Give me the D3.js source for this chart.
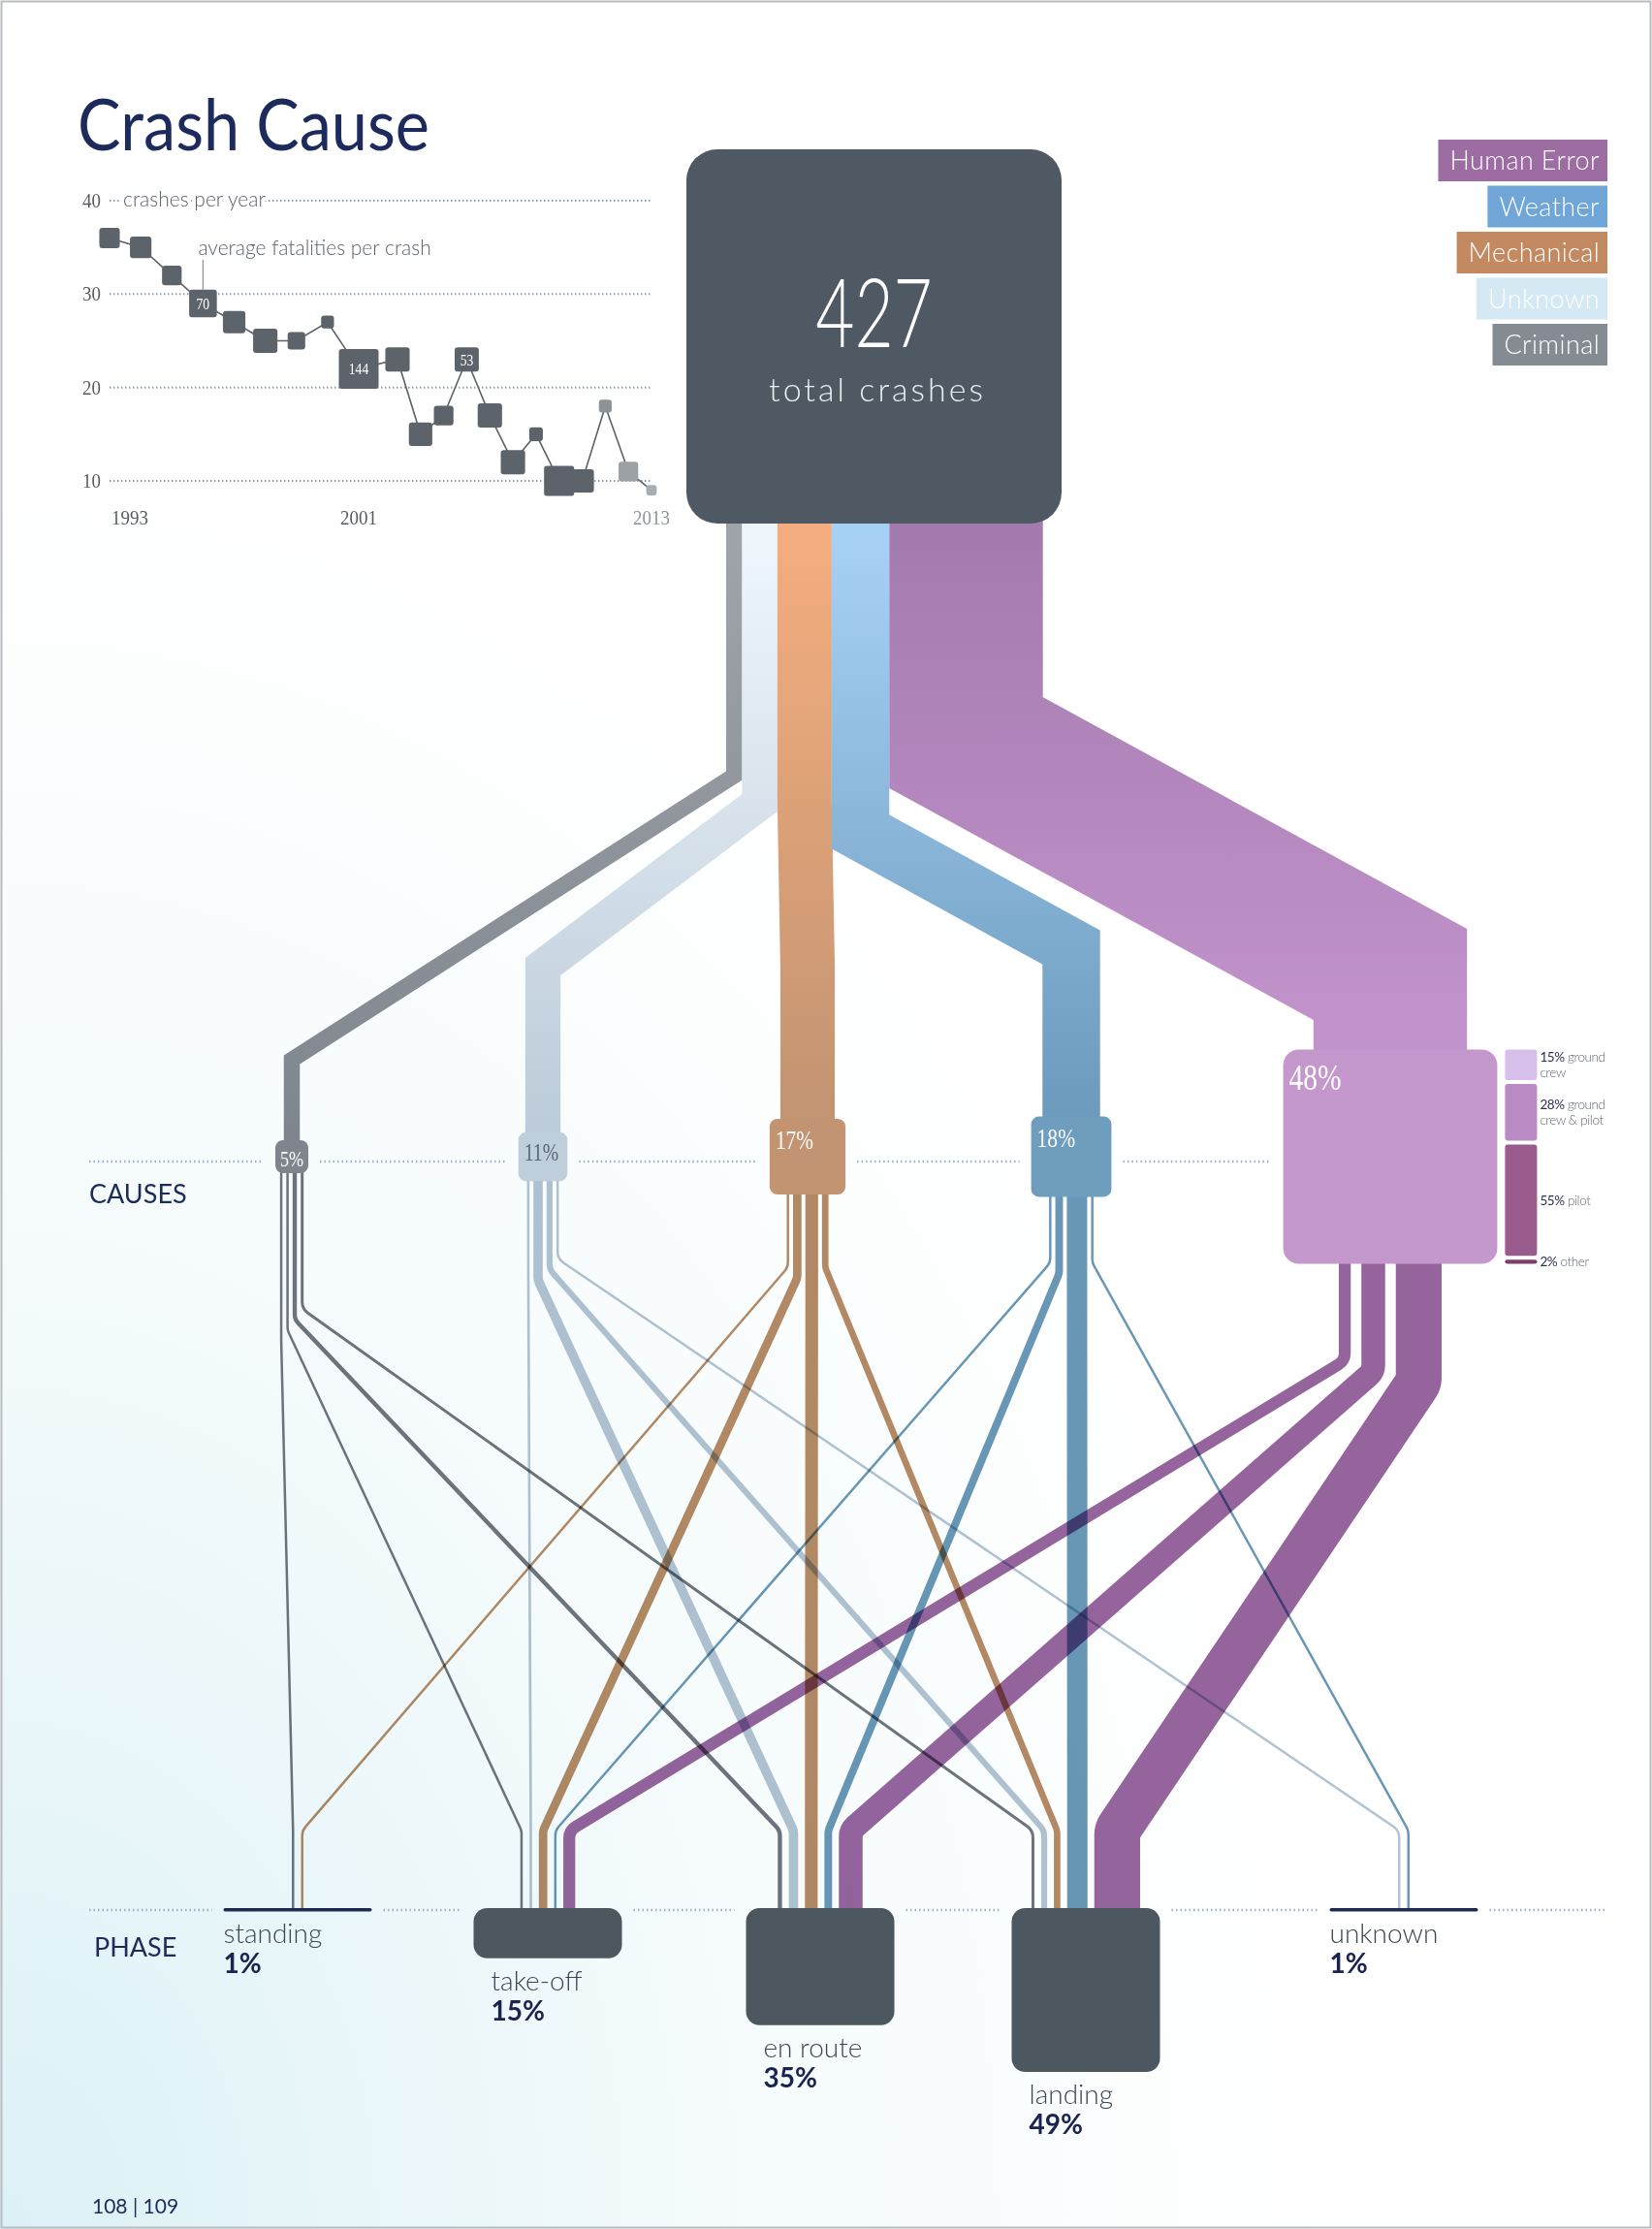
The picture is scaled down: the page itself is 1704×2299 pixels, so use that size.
<!DOCTYPE html>
<html>
<head>
<meta charset="utf-8">
<title>Crash Cause</title>
<script src="https://d3js.org/d3.v7.min.js"></script>
<style>
  body { margin: 0; background: #fff; }
  svg { display: block; }
  text { font-family: Lato, "Open Sans", sans-serif; }
  .num { font-family: "Liberation Serif", "DejaVu Serif", serif; }
</style>
</head>
<body>
<svg id="page" width="1704" height="2299"></svg>
<script>
// ---------- values ----------
var years = [1993, 1994, 1995, 1996, 1997, 1998, 1999, 2000, 2001, 2002, 2003,
             2004, 2005, 2006, 2007, 2008, 2009, 2010, 2011, 2012, 2013];
var crashesPerYear = [36, 35, 32, 29, 27, 25, 25, 27, 22, 23, 15,
                      17, 23, 17, 12, 15, 10, 10, 18, 11, 9];
var fatalitiesPerCrash = [38, 42, 35, 70, 46, 54, 28, 15, 144, 54, 50,
                          35, 53, 54, 54, 17, 83, 50, 15, 35, 10];
var labelledYears = [1996, 2001, 2005];
var provisionalYears = [2011, 2012, 2013];
var yTicks = [10, 20, 30, 40];
var yearTicks = [1993, 2001, 2013];

var totalCrashes = 427;
var causes = ["Criminal", "Unknown", "Mechanical", "Weather", "Human Error"];
var causeShare = [5, 11, 17, 18, 48];
var legendOrder = ["Human Error", "Weather", "Mechanical", "Unknown", "Criminal"];

var phases = ["standing", "take-off", "en route", "landing", "unknown"];
var phaseShare = [1, 15, 35, 49, 1];

// % of all crashes, per phase (same order as phases)
var criminalByPhase   = [0.3, 0.5, 2.5, 1.7, 0];
var unknownByPhase    = [0, 1.5, 5.5, 3.5, 0.5];
var mechanicalByPhase = [0.7, 5, 7.5, 3.8, 0];
var weatherByPhase    = [0, 1, 4.5, 12, 0.5];
var humanByPhase      = [0, 7, 14, 27, 0];

var humanTypes = ["ground crew", "ground crew & pilot", "pilot", "other"];
var humanTypeShare = [15, 28, 55, 2];

// ---------- layout ----------
var svg = d3.select("#page");
var W = 1704, H = 2299;
var navy = "#1d2a5c";

var box = {x0: 708, x1: 1095, y0: 154, y1: 540};
var bandK = 3.3, bandLeft = 749;
var causeRowY = 1193;
var causeX = d3.scaleOrdinal().domain(causes).range([301, 560, 833, 1105, 1434]);
var causeBends = [[800, 1093], [828, 997], [828, 997], [858, 977], [766, 1005]];
var causeDrop = [140, 80, 75, 68, 100];
var causeGap = [4, 4, 4, 4, 11];
var phaseX = d3.scaleOrdinal().domain(phases).range([307, 565, 846, 1120, 1448]);
var phaseTop = 1968, phaseK = 3.45, phaseW = 153;
var linkK = 1.75, linkMin = 2.5, phaseGap = 7;

var bandColors = [["#9ea4aa", "#7f858c"], ["#eef6fc", "#bccbd9"], ["#f3ad7e", "#c29472"],
                  ["#a6d1f5", "#6b9abc"], ["#a47baf", "#c394cc"]];
var nodeColors = ["#7f858c", "#bfcedb", "#c29472", "#6e9dbe", "#c497cd"];
var linkColors = ["#6f757c", "#b2c3d2", "#b58a64", "#6997b6", "#96649d"];
var labelColors = ["#fff", "#5b6570", "#fff", "#fff", "#fff"];
var legendColors = {"Human Error": "#9c6ca2", "Weather": "#70a5d8", "Mechanical": "#c38a62",
                    "Unknown": "#d5e9f5", "Criminal": "#858b92"};
var humanTypeColors = ["#d6bfea", "#b98ac3", "#995b8b", "#7b3e6c"];

function squeeze(sel, f) {
  sel.each(function() {
    d3.select(this).attr("textLength", this.getComputedTextLength() * f)
      .attr("lengthAdjust", "spacingAndGlyphs");
  });
}

// ---------- paper ----------
var defs = svg.append("defs");
var paper = defs.append("radialGradient").attr("id", "paper")
  .attr("cx", 0).attr("cy", 1).attr("r", 0.8);
paper.append("stop").attr("offset", 0).attr("stop-color", "#dcf1f6");
paper.append("stop").attr("offset", 0.55).attr("stop-color", "#f5fbfc");
paper.append("stop").attr("offset", 1).attr("stop-color", "#ffffff");
svg.append("rect").attr("width", W).attr("height", H).attr("fill", "url(#paper)");
svg.append("rect").attr("x", 1.5).attr("y", 1.5).attr("width", W - 3).attr("height", H - 3)
  .attr("fill", "none").attr("stroke", "#b8bcc0").attr("stroke-width", 2);

svg.append("text").attr("x", 80).attr("y", 155).attr("font-size", 74)
  .attr("fill", navy).attr("textLength", 363).attr("lengthAdjust", "spacingAndGlyphs")
  .text("Crash Cause");

// ---------- small chart: crashes per year ----------
// the printed chart opens the year spacing round the big 2001 square
var x = d3.scaleLinear().domain([1993, 2001, 2002, 2013]).range([113, 370, 410, 672]);
var y = d3.scaleLinear().domain([10, 40]).range([496, 207]);
var side = d3.scaleSqrt().domain([0, 144]).range([0, 41]);
var mini = svg.append("g");

mini.selectAll(".grid").data(yTicks).enter().append("line")
  .attr("x1", x(1993)).attr("x2", x(2013))
  .attr("y1", d => y(d)).attr("y2", d => y(d))
  .attr("stroke", "#8ea2b6").attr("stroke-width", 2).attr("stroke-dasharray", "1.5,2.5");

mini.selectAll(".ytick").data(yTicks).enter().append("text")
  .attr("class", "num").attr("x", 104).attr("y", d => y(d) + 7)
  .attr("text-anchor", "end").attr("font-size", 21).attr("fill", "#555b62")
  .text(d => d).call(squeeze, 0.9);

mini.append("text").attr("x", 127).attr("y", y(40) + 6).attr("font-size", 21)
  .attr("font-weight", 300).attr("fill", "#59616c")
  .attr("stroke", "#fff").attr("stroke-width", 8).attr("paint-order", "stroke")
  .text("crashes per year");

mini.selectAll(".xtick").data(yearTicks).enter().append("text")
  .attr("class", "num").attr("x", (d, i) => i === 0 ? x(d) + 2 : x(d)).attr("y", 541)
  .attr("text-anchor", (d, i) => i === 0 ? "start" : "middle")
  .attr("font-size", 22).attr("fill", d => provisionalYears.indexOf(d) >= 0 ? "#8d9399" : "#555b62")
  .text(d => d).call(squeeze, 0.86);

var pts = years.map(function(yr, i) {
  return {year: yr, crashes: crashesPerYear[i], fatal: fatalitiesPerCrash[i]};
});
mini.append("path").datum(pts)
  .attr("d", d3.line().x(d => x(d.year)).y(d => y(d.crashes)))
  .attr("fill", "none").attr("stroke", "#5b6168").attr("stroke-width", 1.6);

var provColor = ["#8c9298", "#9ba0a5", "#a8adb2"];
mini.selectAll(".pt").data(pts).enter().append("rect")
  .attr("x", d => x(d.year) - side(d.fatal) / 2)
  .attr("y", d => y(d.crashes) - side(d.fatal) / 2)
  .attr("width", d => side(d.fatal)).attr("height", d => side(d.fatal))
  .attr("rx", 3)
  .attr("fill", function(d) {
    var k = provisionalYears.indexOf(d.year);
    return k >= 0 ? provColor[k] : "#5d636a";
  });

var labelled = pts.filter(d => labelledYears.indexOf(d.year) >= 0);
mini.selectAll(".ptlabel").data(labelled).enter().append("text")
  .attr("class", "num").attr("x", d => x(d.year)).attr("y", d => y(d.crashes) + 6)
  .attr("text-anchor", "middle").attr("font-size", 17).attr("fill", "#fff")
  .text(d => d.fatal).call(squeeze, 0.8);

var first = labelled[0];
mini.append("line").attr("x1", x(first.year)).attr("x2", x(first.year))
  .attr("y1", 268).attr("y2", y(first.crashes) - side(first.fatal) / 2)
  .attr("stroke", "#8a9096").attr("stroke-width", 1.2);
mini.append("text").attr("x", x(first.year) - 5).attr("y", 263).attr("font-size", 21)
  .attr("font-weight", 300).attr("fill", "#59616c").text("average fatalities per crash");

// ---------- flow: nodes ----------
var causeNodes = causes.map(function(c, i) {
  var s = Math.max(34, causeShare[i] * 4.6);
  return {name: c, i: i, share: causeShare[i], cx: causeX(c), side: s,
          top: causeRowY - s / 2, bottom: causeRowY + s / 2};
});
var acc = bandLeft;
causeNodes.forEach(function(n) {
  n.bw = n.share * bandK;
  n.bx = acc + n.bw / 2;
  acc += n.bw;
});

var phaseNodes = phases.map(function(p, j) {
  return {name: p, j: j, share: phaseShare[j], cx: phaseX(p), h: phaseShare[j] * phaseK};
});

var matrix = [criminalByPhase, unknownByPhase, mechanicalByPhase, weatherByPhase, humanByPhase];
var links = [];
matrix.forEach(function(row, i) {
  row.forEach(function(v, j) {
    if (v > 0) links.push({src: i, dst: j, value: v, w: Math.max(linkMin, v * linkK)});
  });
});

causeNodes.forEach(function(n, i) {
  var out = links.filter(l => l.src === i);
  var total = d3.sum(out, l => l.w) + causeGap[i] * (out.length - 1);
  var xx = n.cx - total / 2;
  out.forEach(function(l) { l.x0 = xx + l.w / 2; xx += l.w + causeGap[i]; });
});
phaseNodes.forEach(function(p, j) {
  var inn = links.filter(l => l.dst === j);
  var total = d3.sum(inn, l => l.w) + phaseGap * (inn.length - 1);
  var xx = p.cx - total / 2;
  inn.forEach(function(l) { l.x1 = xx + l.w / 2; xx += l.w + phaseGap; });
});
causeNodes.forEach(function(n, i) {
  var out = links.filter(l => l.src === i);
  out.forEach(function(l, k) {
    var dx = l.x1 - l.x0, rank = 0;
    if (dx > 4) rank = out.filter((m, q) => q > k && m.x1 - m.x0 > 4).length;
    else if (dx < -4) rank = out.filter((m, q) => q < k && m.x1 - m.x0 < -4).length;
    l.yb = n.bottom + causeDrop[i] + rank * 11;
  });
});

function bentPath(p, r) {
  var path = d3.path();
  path.moveTo(p[0][0], p[0][1]);
  for (var k = 1; k < p.length - 1; k++) path.arcTo(p[k][0], p[k][1], p[k + 1][0], p[k + 1][1], r);
  path.lineTo(p[p.length - 1][0], p[p.length - 1][1]);
  return path.toString();
}

// dotted row lines, broken around the nodes
function dottedRow(yy, x0, x1, spans) {
  var cur = x0, segs = [];
  spans.forEach(function(s) { if (s[0] > cur) segs.push([cur, s[0]]); cur = s[1]; });
  if (x1 > cur) segs.push([cur, x1]);
  svg.append("g").selectAll("line").data(segs).enter().append("line")
    .attr("x1", d => d[0]).attr("x2", d => d[1]).attr("y1", yy).attr("y2", yy)
    .attr("stroke", "#9db2c6").attr("stroke-width", 2.5).attr("stroke-dasharray", "1.5,3");
}
dottedRow(causeRowY + 5, 92, causeNodes[4].cx - causeNodes[4].side / 2 - 14,
  causeNodes.slice(0, 4).map(n => [n.cx - n.side / 2 - 12, n.cx + n.side / 2 + 12]));
dottedRow(phaseTop + 2, 92, 1657,
  phaseNodes.map(p => [p.cx - phaseW / 2 - 12, p.cx + phaseW / 2 + 12]));

// links
svg.append("g").selectAll("path").data(links).enter().append("path")
  .attr("d", function(l) {
    var n = causeNodes[l.src], p = phaseNodes[l.dst];
    return bentPath([[l.x0, n.bottom - 6], [l.x0, l.yb], [l.x1, phaseTop - 80],
                     [l.x1, phaseTop + (p.h > 5 ? 8 : 0)]], 14);
  })
  .attr("fill", "none").attr("stroke", l => linkColors[l.src])
  .attr("stroke-width", l => l.w).style("mix-blend-mode", "multiply");

// phase nodes
var pg = svg.append("g").selectAll("g").data(phaseNodes).enter().append("g");
pg.append("rect")
  .attr("x", p => p.cx - phaseW / 2).attr("y", phaseTop)
  .attr("width", phaseW).attr("height", p => p.h)
  .attr("rx", p => Math.min(14, p.h / 2))
  .attr("fill", p => p.h > 5 ? "#4c5760" : "#1f2b4e");
pg.append("text")
  .attr("x", p => p.cx - phaseW / 2 + (p.h > 5 ? 18 : 0)).attr("y", p => phaseTop + p.h + 33)
  .attr("font-size", 28).attr("font-weight", 300).attr("fill", "#3c4652")
  .text(p => p.name);
pg.append("text")
  .attr("x", p => p.cx - phaseW / 2 + (p.h > 5 ? 18 : 0)).attr("y", p => phaseTop + p.h + 64)
  .attr("font-size", 28).attr("font-weight", 700).attr("fill", "#1a2352")
  .text(p => p.share + "%");

// bands from the total box down to the causes
causeNodes.forEach(function(n, i) {
  defs.append("linearGradient").attr("id", "band" + i)
    .attr("gradientUnits", "userSpaceOnUse")
    .attr("x1", 0).attr("x2", 0).attr("y1", box.y1 + 20).attr("y2", n.top)
    .selectAll("stop").data(bandColors[i]).enter().append("stop")
    .attr("offset", (d, k) => k).attr("stop-color", d => d);
});
svg.append("g").selectAll("path").data(causeNodes).enter().append("path")
  .attr("d", n => d3.line()([[n.bx, box.y1 - 20], [n.bx, causeBends[n.i][0]],
                             [n.cx, causeBends[n.i][1]], [n.cx, n.top + 10]]))
  .attr("fill", "none").attr("stroke", n => "url(#band" + n.i + ")")
  .attr("stroke-width", n => n.bw).attr("stroke-linejoin", "miter");

// cause nodes
var fs = d3.scaleLinear().domain([0, 48]).range([21.5, 37.8]);
var cg = svg.append("g").selectAll("g").data(causeNodes).enter().append("g");
cg.append("rect")
  .attr("x", n => n.cx - n.side / 2).attr("y", n => n.top)
  .attr("width", n => n.side).attr("height", n => n.side)
  .attr("rx", n => n.side > 100 ? 16 : 8).attr("fill", n => nodeColors[n.i]);
cg.append("text").attr("class", "num")
  .attr("x", n => n.side < 40 ? n.cx : n.cx - n.side / 2 + 6)
  .attr("y", n => n.top + fs(n.share) + 4)
  .attr("text-anchor", n => n.side < 40 ? "middle" : "start")
  .attr("font-size", n => fs(n.share)).attr("fill", n => labelColors[n.i])
  .text(n => n.share + "%").call(squeeze, 0.78);

svg.append("text").attr("x", 92).attr("y", causeRowY + 48).attr("font-size", 27)
  .attr("fill", navy).text("CAUSES");
svg.append("text").attr("x", 97).attr("y", phaseTop + 50).attr("font-size", 27)
  .attr("fill", navy).text("PHASE");

// human error breakdown
var hn = causeNodes[4], subGap = 4;
var subH = hn.side - subGap * (humanTypes.length - 1);
var yy = hn.top;
var subs = humanTypes.map(function(t, k) {
  var h = humanTypeShare[k] / 100 * subH;
  var d = {name: t, share: humanTypeShare[k], y: yy, h: h, k: k};
  yy += h + subGap;
  return d;
});
var sx = hn.cx + hn.side / 2 + 8;
var sg = svg.append("g").selectAll("g").data(subs).enter().append("g");
sg.append("rect").attr("x", sx).attr("y", d => d.y).attr("width", 33).attr("height", d => d.h)
  .attr("rx", d => Math.min(3, d.h / 2)).attr("fill", d => humanTypeColors[d.k]);
sg.each(function(d) {
  var g = d3.select(this);
  var sp = d.name.indexOf(" ");
  var twoLines = sp > 0 && d.name.indexOf("crew") > 0;
  var head = twoLines ? d.name.slice(0, sp) : d.name;
  var base = twoLines ? d.y + d.h / 2 - 3 : d.y + d.h / 2 + 5;
  var t = g.append("text").attr("x", sx + 36).attr("y", base).attr("font-size", 13.5)
    .attr("letter-spacing", -0.4);
  t.append("tspan").attr("fill", "#283152").text(d.share + "%");
  t.append("tspan").attr("fill", "#626872").attr("font-weight", 300).text(" " + head);
  if (twoLines) {
    g.append("text").attr("x", sx + 36).attr("y", base + 16).attr("font-size", 13.5)
      .attr("letter-spacing", -0.4).attr("fill", "#626872").attr("font-weight", 300)
      .text(d.name.slice(sp + 1));
  }
});

// total box
svg.append("rect").attr("x", box.x0).attr("y", box.y0)
  .attr("width", box.x1 - box.x0).attr("height", box.y1 - box.y0)
  .attr("rx", 32).attr("fill", "#4f5963");
svg.append("text").attr("x", (box.x0 + box.x1) / 2).attr("y", 358)
  .attr("text-anchor", "middle").attr("font-size", 99).attr("font-weight", 300)
  .attr("fill", "#fff").text(totalCrashes).call(squeeze, 0.7);
svg.append("text").attr("x", (box.x0 + box.x1) / 2 + 2).attr("y", 414)
  .attr("text-anchor", "middle").attr("font-size", 34).attr("font-weight", 300)
  .attr("fill", "#e9edf0").attr("textLength", 221).attr("lengthAdjust", "spacing")
  .text("total crashes");

// legend
var lg = svg.append("g").selectAll("g").data(legendOrder).enter().append("g");
lg.append("text").attr("x", 1650).attr("y", (d, i) => 144 + i * 47.5 + 31)
  .attr("text-anchor", "end").attr("font-size", 27).attr("font-weight", 300)
  .attr("letter-spacing", 0.4).attr("fill", "#fff").text(d => d);
lg.each(function(d, i) {
  var t = d3.select(this).select("text");
  var w = t.node().getComputedTextLength() + 20;
  d3.select(this).insert("rect", "text")
    .attr("x", 1658 - w).attr("y", 144 + i * 47.5).attr("width", w).attr("height", 43)
    .attr("fill", legendColors[d]);
});

svg.append("text").attr("x", 95).attr("y", 2283).attr("font-size", 21)
  .attr("fill", navy).text("108 | 109");
</script>
</body>
</html>
